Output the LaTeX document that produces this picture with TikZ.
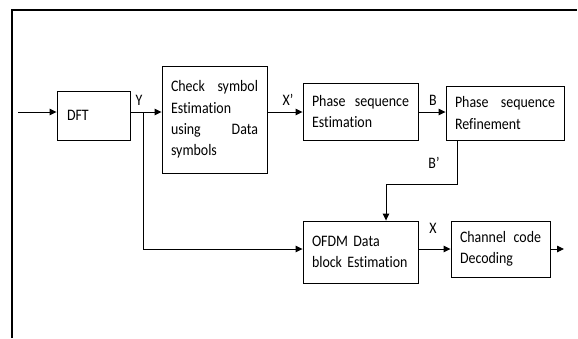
\documentclass[tikz,border=0pt]{standalone}
\usepackage{fontspec}
\setmainfont{Carlito}[FakeStretch=0.87, Ligatures=NoCommon]
\usetikzlibrary{arrows.meta}
\hyphenpenalty=10000
\exhyphenpenalty=10000
\begin{document}
\begin{tikzpicture}[x=1bp,y=-1bp,
  every node/.style={font=\fontsize{16bp}{21.3bp}\selectfont},
  blk/.style={draw, line width=0.9bp, align=left, inner xsep=9bp, inner ysep=0bp, anchor=center},
  conn/.style={line width=0.9bp, -{Triangle[length=7bp,width=6.5bp]}},
  plain/.style={line width=0.9bp},
  lbl/.style={inner sep=0pt}]
\useasboundingbox (0,0) rectangle (578,338);
% frame
\draw[line width=1.6bp] (12,338) -- (12,10) -- (577,10);
% blocks
\node[blk, text width=55bp, minimum height=49bp] (dft) at (93.5,115.5) {\hspace*{1bp}DFT};
\node[blk, text width=87bp, minimum height=107bp] (chk) at (214.5,119.5)
  {Check\hfill symbol\\Estimation\\using\hfill Data\\symbols};
\node[blk, text width=97bp, minimum height=57bp] (pse) at (360.5,111.5)
  {Phase\hfill sequence\\Estimation};
\node[blk, text width=100bp, minimum height=54bp] (psr) at (505,113)
  {Phase\hfill sequence\\Refinement};
\node[blk, text width=97bp, minimum height=62bp] (ofdm) at (360.5,252)
  {OFDM Data\\block Estimation};
\node[blk, text width=81bp, minimum height=56bp] (ccd) at (500.5,249)
  {Channel\hfill code\\Decoding};
% coordinates
\coordinate (in) at (18,112);
\coordinate (br) at (143,112);
\coordinate (brlow) at (143,249);
\coordinate (bp1) at (457,184);
\coordinate (bp2) at (386,184);
\coordinate (out) at (564,249);
% connectors
\draw[conn] (in) -- (in -| dft.west);
\draw[plain] (br -| dft.east) -- (br);
\draw[conn] (br) -- (br -| chk.west);
\draw[conn] (br -| chk.east) -- (br -| pse.west);
\draw[conn] (br -| pse.east) -- (br -| psr.west);
\draw[conn] (bp1 |- psr.south) -- (bp1) -- (bp2) -- (bp2 |- ofdm.north);
\draw[conn] (br) -- (brlow) -- (brlow -| ofdm.west);
\draw[conn] (brlow -| ofdm.east) -- (brlow -| ccd.west);
\draw[conn] (brlow -| ccd.east) -- (out);
% labels
\node[lbl] (lY) at (139,100) {Y};
\node[lbl] (lX1) at (288,100) {X’};
\node[lbl] (lB) at (433,100) {B};
\node[lbl] (lB1) at (434,163) {B’};
\node[lbl] (lX) at (433,228) {X};
\end{tikzpicture}
\end{document}
